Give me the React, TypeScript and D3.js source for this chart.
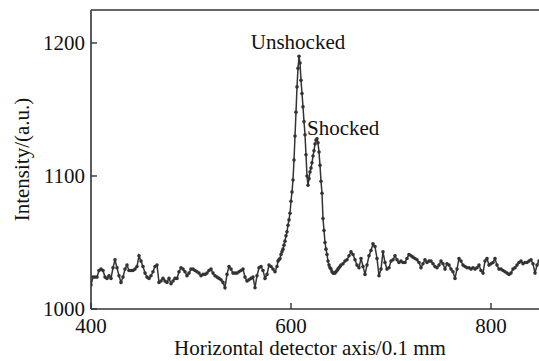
import React from "react"
import * as d3 from "d3"

// baseline left of the peaks, sampled every 2 units from 400
const leftStart = 400
const leftIntensity = [
  1018, 1024, 1024, 1024, 1029, 1030, 1029, 1024, 1023, 1025, 1023, 1031, 1037, 1031, 1025, 1020,
  1024, 1030, 1033, 1029, 1029, 1029, 1030, 1032, 1040, 1036, 1032, 1027, 1024, 1023, 1025, 1028,
  1032, 1033, 1020, 1021, 1023, 1021, 1020, 1023, 1019, 1021, 1023, 1023, 1028, 1031, 1030, 1028,
  1025, 1027, 1030, 1030, 1029, 1028, 1027, 1025, 1026, 1026, 1027, 1029, 1030, 1027, 1025, 1024,
  1023, 1022, 1020, 1016, 1026, 1032, 1030, 1027, 1027, 1027, 1028, 1029, 1030, 1024, 1021, 1022,
  1023, 1024, 1016, 1025, 1031, 1032, 1029, 1023, 1026, 1033, 1032, 1030, 1028,
]

// peak region, sampled every unit from 586
const peakStart = 586
const peakIntensity = [
  1032, 1036, 1037, 1038, 1041, 1043, 1045, 1048, 1051, 1055, 1058, 1063, 1067, 1072, 1081, 1088,
  1097, 1112, 1130, 1148, 1167, 1181, 1190, 1185, 1172, 1162, 1152, 1141, 1131, 1116, 1100, 1093,
  1098, 1103, 1106, 1110, 1115, 1119, 1124, 1127, 1128, 1125, 1118, 1108, 1096, 1087, 1068, 1059,
  1050, 1045, 1041, 1036, 1033, 1031, 1030, 1028, 1027, 1027, 1027, 1028, 1029, 1030, 1031, 1032,
  1033,
]

// baseline right of the peaks, every 2 units from 652
const rightStart = 652
const rightIntensity = [
  1034, 1036, 1037, 1040, 1043, 1041, 1037, 1033, 1031, 1038, 1032, 1026, 1033, 1040, 1044, 1049,
  1047, 1038, 1025, 1030, 1043, 1035, 1030, 1031, 1036, 1037, 1040, 1037, 1035, 1036, 1035, 1035,
  1038, 1041, 1040, 1039, 1038, 1037, 1035, 1031, 1034, 1037, 1035, 1036, 1036, 1034, 1032, 1031,
  1033, 1036, 1034, 1030, 1034, 1033, 1030, 1028, 1023, 1030, 1038, 1036, 1033, 1032, 1031, 1031,
  1030, 1031, 1030, 1031, 1033, 1029, 1027, 1036, 1038, 1033, 1034, 1035, 1038, 1033, 1030, 1030,
  1029, 1028, 1027, 1026, 1027, 1030, 1031, 1033, 1035, 1036, 1034, 1035, 1035, 1036, 1037, 1034,
  1027, 1033, 1036,
]

const xTicks = [400, 600, 800]
const yTicks = [1000, 1100, 1200]

const FONT = "'Liberation Serif', 'Times New Roman', serif"
const INK = "#333"

export default function App() {
  const W = 539
  const H = 361
  const left = 91
  const right = 539
  const top = 10
  const bottom = 309

  const x = d3.scaleLinear().domain([400, 848]).range([left, right])
  const y = d3.scaleLinear().domain([1000, 1224.8]).range([bottom, top])

  const pts: [number, number][] = [
    ...leftIntensity.map((v, i) => [leftStart + i * 2, v] as [number, number]),
    ...peakIntensity.map((v, i) => [peakStart + i, v] as [number, number]),
    ...rightIntensity.map((v, i) => [rightStart + i * 2, v] as [number, number]),
  ]

  const line = d3
    .line<[number, number]>()
    .x((d) => x(d[0]))
    .y((d) => y(d[1]))

  return (
    <svg
      width={W}
      height={H}
      style={{ position: "absolute", left: 0, top: 0, background: "#fff" }}
      fontFamily={FONT}
    >
      <defs>
        <clipPath id="plot">
          <rect x={left} y={top} width={right - left} height={bottom - top} />
        </clipPath>
      </defs>

      <g clipPath="url(#plot)">
        <path d={line(pts) || ""} fill="none" stroke={INK} strokeWidth={1.5} />
        {pts.map((d, i) => (
          <circle key={i} cx={x(d[0])} cy={y(d[1])} r={1.8} fill={INK} />
        ))}
      </g>

      {/* frame */}
      <line x1={left} x2={left} y1={top} y2={bottom} stroke={INK} strokeWidth={1.6} />
      <line x1={left} x2={right} y1={bottom} y2={bottom} stroke={INK} strokeWidth={1.6} />
      <line x1={left} x2={right} y1={top} y2={top} stroke={INK} strokeWidth={1.6} />

      {/* y axis */}
      {yTicks.map((t) => (
        <g key={t}>
          <line x1={left} x2={left + 6} y1={y(t)} y2={y(t)} stroke={INK} strokeWidth={1.4} />
          <text x={left - 6} y={y(t) + 7} textAnchor="end" fontSize={21} fill="#111">
            {t}
          </text>
        </g>
      ))}

      {/* x axis */}
      {xTicks.map((t) => (
        <g key={t}>
          <line x1={x(t)} x2={x(t)} y1={bottom} y2={bottom - 6} stroke={INK} strokeWidth={1.4} />
          <text x={x(t)} y={333} textAnchor="middle" fontSize={21} fill="#111">
            {t}
          </text>
        </g>
      ))}

      <text x={310} y={355} textAnchor="middle" fontSize={21} fill="#111">
        Horizontal detector axis/0.1 mm
      </text>
      <text
        transform={`translate(29, ${(top + bottom) / 2}) rotate(-90)`}
        textAnchor="middle"
        fontSize={21}
        fill="#111"
      >
        Intensity/(a.u.)
      </text>

      <text x={298} y={49} textAnchor="middle" fontSize={21} fill="#111">
        Unshocked
      </text>
      <text x={307} y={135} fontSize={21} fill="#111">
        Shocked
      </text>
    </svg>
  )
}
